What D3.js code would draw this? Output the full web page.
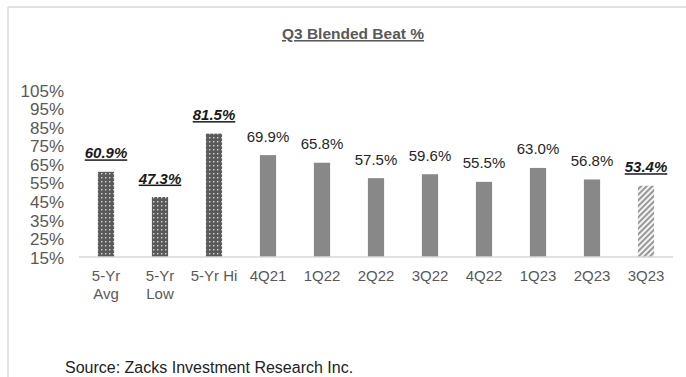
<!DOCTYPE html>
<html>
<head>
<meta charset="utf-8">
<script src="https://cdn.jsdelivr.net/npm/d3@7"></script>
<style>
  html, body { margin: 0; padding: 0; background: #fff; }
  svg { display: block; font-family: "Liberation Sans", Arial, sans-serif; }
</style>
</head>
<body>
<svg id="chart" width="686" height="377"></svg>
<script>
// Beat percentages per period
const categories = ["5-Yr Avg", "5-Yr Low", "5-Yr Hi", "4Q21", "1Q22", "2Q22", "3Q22", "4Q22", "1Q23", "2Q23", "3Q23"];
const categoryLines = [["5-Yr", "Avg"], ["5-Yr", "Low"], ["5-Yr Hi"], ["4Q21"], ["1Q22"], ["2Q22"], ["3Q22"], ["4Q22"], ["1Q23"], ["2Q23"], ["3Q23"]];
const beatPct = [60.9, 47.3, 81.5, 69.9, 65.8, 57.5, 59.6, 55.5, 63.0, 56.8, 53.4];
// fill style per bar: dotted for 5-year stats, solid for history, hatched for current quarter
const barStyle = ["dots", "dots", "dots", "solid", "solid", "solid", "solid", "solid", "solid", "solid", "hatch"];
const yTicks = [15, 25, 35, 45, 55, 65, 75, 85, 95, 105];

const svg = d3.select("#chart");
const defs = svg.append("defs");

// dotted pattern
const dots = defs.append("pattern").attr("id", "dots")
  .attr("width", 4).attr("height", 4).attr("patternUnits", "userSpaceOnUse");
dots.append("rect").attr("width", 4).attr("height", 4).attr("fill", "#5a5a5a");
dots.append("rect").attr("x", 1).attr("y", 1).attr("width", 1.4).attr("height", 1.4).attr("fill", "#d8d8d8");

// diagonal hatch pattern
const hatch = defs.append("pattern").attr("id", "hatch")
  .attr("width", 4).attr("height", 4).attr("patternUnits", "userSpaceOnUse")
  .attr("patternTransform", "rotate(45)");
hatch.append("rect").attr("width", 4).attr("height", 4).attr("fill", "#f4f4f4");
hatch.append("rect").attr("width", 1.8).attr("height", 4).attr("fill", "#8f8f8f");

// frame lines
svg.append("line").attr("x1", 8).attr("x2", 686).attr("y1", 7).attr("y2", 7)
  .attr("stroke", "#e2e2e2").attr("stroke-width", 2);
svg.append("line").attr("x1", 8).attr("x2", 8).attr("y1", 7).attr("y2", 377)
  .attr("stroke", "#e2e2e2").attr("stroke-width", 2);

const x = d3.scaleBand().domain(categories).range([79, 673]).paddingInner(0.7).paddingOuter(0.35);
const y = d3.scaleLinear().domain([15, 105]).range([257, 90]);

// title
svg.append("text").attr("x", 353).attr("y", 39).attr("text-anchor", "middle")
  .attr("font-size", 15.5).attr("font-weight", "bold").attr("fill", "#595959")
  .attr("text-decoration", "underline").text("Q3 Blended Beat %");

// y axis labels
const yAxis = d3.axisLeft(y).tickValues(yTicks).tickFormat(d => d + "%").tickSize(0).tickPadding(0);
const yg = svg.append("g").attr("transform", "translate(64,0)").call(yAxis);
yg.select(".domain").remove();
yg.selectAll("text").attr("font-size", 17).attr("fill", "#595959")
  .attr("font-family", "Liberation Sans, Arial, sans-serif").attr("dy", "0.36em");

// bars
svg.append("g").selectAll("rect").data(categories).join("rect")
  .attr("x", d => x(d))
  .attr("width", x.bandwidth())
  .attr("y", (d, i) => y(beatPct[i]))
  .attr("height", (d, i) => y(15) - y(beatPct[i]))
  .attr("fill", (d, i) => barStyle[i] === "dots" ? "url(#dots)" : barStyle[i] === "hatch" ? "url(#hatch)" : "#888888");

// baseline
svg.append("line").attr("x1", 79).attr("x2", 673).attr("y1", y(15)).attr("y2", y(15))
  .attr("stroke", "#d9d9d9").attr("stroke-width", 1.5);

// value labels
svg.append("g").selectAll("text").data(categories).join("text")
  .attr("x", d => x(d) + x.bandwidth() / 2)
  .attr("y", (d, i) => y(beatPct[i]) - 13.5)
  .attr("text-anchor", "middle")
  .attr("font-size", 15)
  .attr("fill", (d, i) => barStyle[i] === "solid" ? "#262626" : "#1a1a1a")
  .attr("font-weight", (d, i) => barStyle[i] === "solid" ? "normal" : "bold")
  .attr("font-style", (d, i) => barStyle[i] === "solid" ? "normal" : "italic")
  .attr("text-decoration", (d, i) => barStyle[i] === "solid" ? "none" : "underline")
  .text((d, i) => beatPct[i].toFixed(1) + "%");

// category labels
const cat = svg.append("g").selectAll("text").data(categories).join("text")
  .attr("x", d => x(d) + x.bandwidth() / 2)
  .attr("y", 281)
  .attr("text-anchor", "middle")
  .attr("font-size", 15)
  .attr("fill", "#595959");
cat.selectAll("tspan").data((d, i) => categoryLines[i]).join("tspan")
  .attr("x", function () { return d3.select(this.parentNode).attr("x"); })
  .attr("dy", (d, j) => j === 0 ? 0 : 18)
  .text(d => d);

// source note
svg.append("text").attr("x", 65).attr("y", 373).attr("font-size", 16).attr("fill", "#222")
  .text("Source: Zacks Investment Research Inc.");
</script>
</body>
</html>
